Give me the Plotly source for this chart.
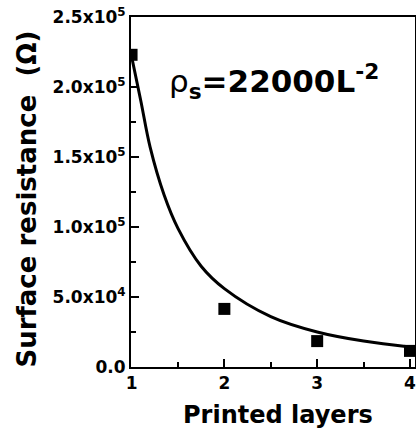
import plotly.graph_objects as go

# Measured data (printed layers vs surface resistance, ohm)
layers = [1, 2, 3, 4]
resistance = [223000, 41500, 18500, 11500]

# Fitted curve
fit_layers = [1.0, 1.1, 1.2, 1.35, 1.5, 1.75, 2.0, 2.5, 3.0, 3.5, 4.0, 4.05]
fit_resistance = [222000, 190000, 157000, 123000, 99000, 72000, 56000, 36000, 25000, 18500, 14300, 14000]

y_tickvals = [0, 50000, 100000, 150000, 200000, 250000]
y_ticktext = ["0.0", "5.0x10<sup>4</sup>", "1.0x10<sup>5</sup>", "1.5x10<sup>5</sup>",
              "2.0x10<sup>5</sup>", "2.5x10<sup>5</sup>"]
y_minor = [25000, 75000, 125000, 175000, 225000]
x_tickvals = [1, 2, 3, 4]
x_ticktext = ["1", "2", "3", "4"]
x_minor = [1.5, 2.5, 3.5]

FONT = "DejaVu Sans"

fig = go.Figure()
fig.add_trace(go.Scatter(x=fit_layers, y=fit_resistance, mode="lines",
                         line=dict(color="black", width=3, shape="spline", smoothing=1.0),
                         showlegend=False, hoverinfo="skip"))
fig.add_trace(go.Scatter(x=layers, y=resistance, mode="markers",
                         marker=dict(symbol="square", size=12, color="black"),
                         showlegend=False))

axis_common = dict(showgrid=False, zeroline=False, showline=True, linecolor="black",
                   linewidth=2, mirror=True, ticks="inside", ticklen=8, tickwidth=2,
                   tickcolor="black", automargin=False, ticklabeloverflow="allow",
                   tickfont=dict(family=FONT, size=17, color="black", weight="bold"))

fig.update_xaxes(range=[0.994, 4.054], tickmode="array", tickvals=x_tickvals, ticktext=x_ticktext,
                 minor=dict(tickmode="array", tickvals=x_minor, ticklen=5, tickwidth=2,
                            tickcolor="black", ticks="inside"),
                 **axis_common)
fig.update_yaxes(range=[0, 250000], tickmode="array", tickvals=y_tickvals, ticktext=y_ticktext,
                 minor=dict(tickmode="array", tickvals=y_minor, ticklen=5, tickwidth=2,
                            tickcolor="black", ticks="inside"),
                 **axis_common)

fig.add_annotation(text="Surface resistance\u00a0\u00a0(\u03a9)", xref="paper", yref="paper",
                   x=-0.366, y=0.4786, xanchor="center", yanchor="middle", textangle=-90,
                   showarrow=False, font=dict(family=FONT, size=26, color="black", weight="bold"))
fig.add_annotation(text="Printed layers", xref="paper", yref="paper",
                   x=0.5165, y=-0.137, xanchor="center", yanchor="middle",
                   showarrow=False, font=dict(family=FONT, size=24, color="black", weight="bold"))
fig.add_annotation(text="<span style=\"font-weight:normal\">\u03c1</span><sub>s</sub>=22000L<sup>-2</sup>",
                   xref="paper", yref="paper",
                   x=0.125, y=0.815, xanchor="left", yanchor="middle",
                   showarrow=False, font=dict(family=FONT, size=31, color="black", weight="bold"))

fig.update_layout(width=416, height=437, margin=dict(l=131, r=1, t=17, b=70),
                  plot_bgcolor="white", paper_bgcolor="white")

fig.write_html("out.html", config={"displayModeBar": False},
               post_script="document.body.style.margin='0';document.body.style.overflow='hidden';")
